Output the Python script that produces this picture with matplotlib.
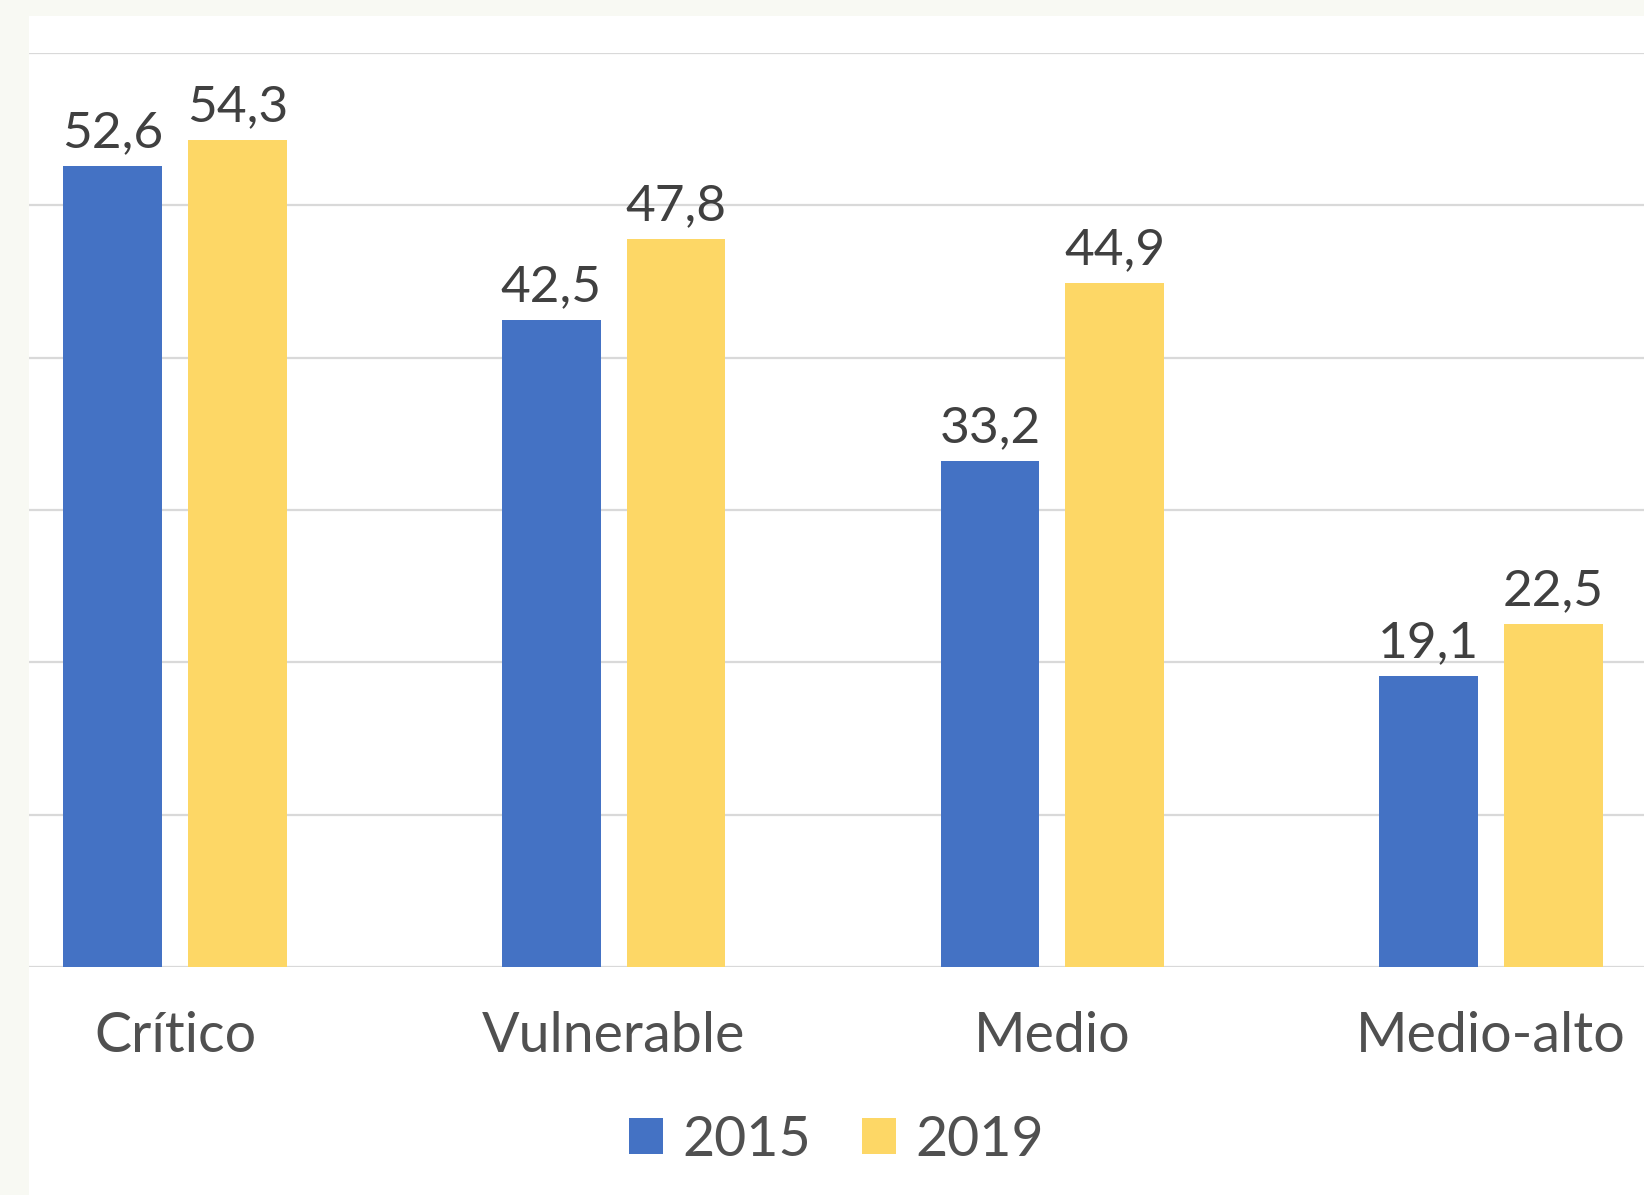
import numpy as np
import matplotlib.pyplot as plt
import matplotlib.patches as mpatches

categories = ['Crítico', 'Vulnerable', 'Medio', 'Medio-alto']
years = ['2015', '2019']
v2015 = [52.6, 42.5, 33.2, 19.1]
v2019 = [54.3, 47.8, 44.9, 22.5]
colors = ['#4472C4', '#FDD766']

plt.rcParams['font.family'] = ['Lato', 'DejaVu Sans']

W, H = 1644, 1195
fig = plt.figure(figsize=(W / 100, H / 100), dpi=100, facecolor='#F8F9F3')

# white chart area (off-white strip on top and left)
fig.patches.append(mpatches.Rectangle((29 / W, 0), 1 - 29 / W, (H - 16) / H,
                                      transform=fig.transFigure, facecolor='white',
                                      edgecolor='none', zorder=-1))

ax = fig.add_axes([29 / W, (H - 967) / H, 1 - 29 / W, (967 - 53) / H])
ax.set_facecolor('none')
ax.set_zorder(1)

x = np.arange(len(categories))
bw = 0.225
off = 0.142
for vals, col, lab, sgn in [(v2015, colors[0], years[0], -1), (v2019, colors[1], years[1], 1)]:
    bars = ax.bar(x + sgn * off, vals, bw, color=col, label=lab, zorder=3)
    for b, v in zip(bars, vals):
        ax.annotate(f'{v:.1f}'.replace('.', ','), (b.get_x() + b.get_width() / 2, v),
                    xytext=(0, 7), textcoords='offset points', ha='center', va='bottom',
                    fontsize=37, color='#404040')

ax.set_ylim(0, 60)
ax.set_xlim(-0.333, 3.349)
ax.set_yticks(np.arange(0, 61, 10))
ax.yaxis.grid(True, color='#D9D9D9', linewidth=1.6)
ax.set_axisbelow(True)
ax.tick_params(axis='y', left=False, labelleft=False)
ax.tick_params(axis='x', length=0, pad=32)
ax.set_xticks(x)
ax.set_xticklabels(categories, fontsize=40, color='#505050')
for s in ax.spines.values():
    s.set_visible(False)

leg = fig.legend(loc='center', bbox_to_anchor=((29 / W + 1) / 2, (H - 1140) / H),
                 ncol=2, frameon=False, fontsize=40, handlelength=0.62, handleheight=0.62,
                 handletextpad=0.35, columnspacing=0.9, labelcolor='#505050')

fig.savefig('out.png', dpi=100, facecolor=fig.get_facecolor())
